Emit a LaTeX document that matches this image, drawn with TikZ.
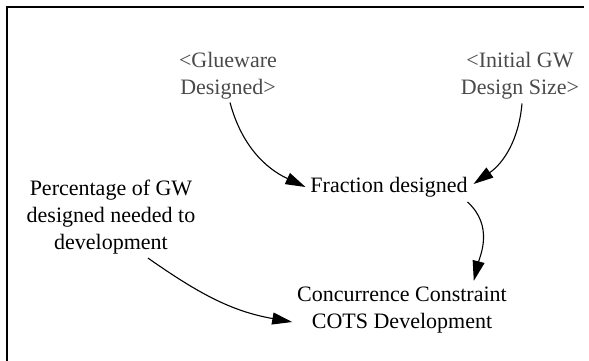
\documentclass[tikz,border=0pt]{standalone}
\usepackage{fontspec}
\setmainfont{Liberation Serif}
\usetikzlibrary{arrows.meta,calc}
\definecolor{shadowgray}{HTML}{4A4A4A}
\tikzset{
  var/.style={inner sep=0pt, outer sep=0pt, align=center,
    font=\fontsize{22pt}{27pt}\selectfont},
  shadowvar/.style={var, text=shadowgray},
  link/.style={line width=1.1pt, -{Triangle[length=20pt,width=12pt]}},
}
\begin{document}
\begin{tikzpicture}[x=1pt,y=1pt]
  \useasboundingbox (0,0) rectangle (589,361);
  % frame
  \draw[line width=2pt] (6.5,0) -- (6.5,354) -- (584,354);
  % variables
  \node[shadowvar] (glue) at (228,285) {<Glueware\\Designed>};
  \node[shadowvar] (init) at (520,285) {<Initial GW\\Design Size>};
  \node[var] (frac) at (389,174) {Fraction designed};
  \node[var] (perc) at (111,144) {Percentage of GW\\designed needed to\\development};
  \node[var] (conc) at (402,51) {Concurrence Constraint\\COTS Development};
  % links
  \draw[link] ($(glue.south)+(2,-3)$) to[out=-75,in=155] ($(frac.west)+(-5,0)$);
  \draw[link] ($(init.south)+(2,-4)$) to[out=-95,in=35] ($(frac.east)+(6,3)$);
  \draw[link] ($(frac.south east)+(0,-5)$) .. controls (494,135) and (480,105) .. ($(conc.north east)+(-33,6)$);
  \draw[link] ($(perc.south)+(37,-4)$) to[out=-35,in=170] ($(conc.west)+(-5,-12)$);
\end{tikzpicture}
\end{document}
